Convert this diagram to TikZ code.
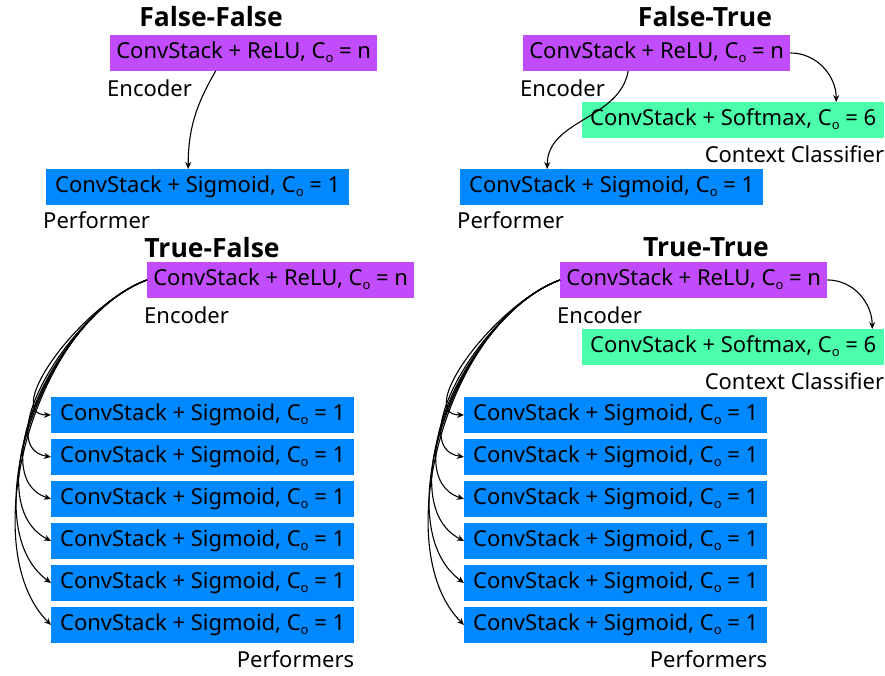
\documentclass[tikz,border=0pt]{standalone}
\usepackage{fontspec}
\setmainfont{Noto Sans}
\newfontfamily\headfont{Open Sans}
\usepackage{xcolor}
\usetikzlibrary{positioning, calc, arrows.meta}

\definecolor{encpurple}{RGB}{192,76,252}
\definecolor{perfblue}{RGB}{0,136,255}
\definecolor{ctxgreen}{RGB}{76,255,170}

% small subscript o after C
\newcommand{\Co}{C\raisebox{-3.5pt}{\fontsize{13}{13}\selectfont o}}

\tikzset{
    block/.style={anchor=north west, minimum height=35.5pt, inner xsep=5pt, inner ysep=0pt,
        text height=17pt, text depth=5pt, font=\fontsize{22}{26}\selectfont},
    encblock/.style={block, fill=encpurple, minimum width=267pt},
    perfblock/.style={block, fill=perfblue, minimum width=303pt},
    ctxblock/.style={block, fill=ctxgreen, minimum width=302pt},
    lab/.style={inner sep=0pt, font=\fontsize{22}{26}\selectfont},
    heading/.style={anchor=base, inner sep=0pt, font=\headfont\bfseries\fontsize{26.5}{30}\selectfont},
    arr/.style={-{Stealth[length=7pt,width=6pt]}, line width=1.1pt},
}

\begin{document}
\begin{tikzpicture}[x=1pt, y=-1pt]
    \useasboundingbox (0,0) rectangle (885,675);

    % False-False: encoder straight into one performer
    \node[heading] (fftitle) at (211,26) {False-False};
    \node[encblock] (ffenc) at (110,35) {ConvStack + ReLU, \Co{} = n};
    \node[lab, below right=9pt and -3pt of ffenc.south west] (ffenclab) {Encoder};
    \node[perfblock] (ffperf) at (46,169) {ConvStack + Sigmoid, \Co{} = 1};
    \node[lab, below right=7pt and -3pt of ffperf.south west] (ffperflab) {Performer};
    \draw[arr] ([xshift=-28pt]ffenc.south) to[out=240, in=90] ([xshift=-9.5pt]ffperf.north);

    % False-True: encoder feeds performer and context classifier
    \node[heading] (fttitle) at (705,26) {False-True};
    \node[encblock] (ftenc) at (523,35) {ConvStack + ReLU, \Co{} = n};
    \node[lab, below right=9pt and -3pt of ftenc.south west] (ftenclab) {Encoder};
    \node[ctxblock] (ftctx) at (582,102) {ConvStack + Softmax, \Co{} = 6};
    \node[lab, below left=8pt and 0pt of ftctx.south east] (ftctxlab) {Context Classifier};
    \node[perfblock] (ftperf) at (460,169) {ConvStack + Sigmoid, \Co{} = 1};
    \node[lab, below right=7pt and -3pt of ftperf.south west] (ftperflab) {Performer};
    \draw[arr] ([xshift=-28.5pt]ftenc.south) to[out=-100, in=90] ([xshift=-64.5pt]ftperf.north);
    \draw[arr] (ftenc.east) to[out=0, in=90] ([xshift=103pt]ftctx.north);

    % True-False: encoder fans out to six performers
    \node[heading] (tftitle) at (212,257) {True-False};
    \node[encblock] (tfenc) at (147,262) {ConvStack + ReLU, \Co{} = n};
    \node[lab, below right=9pt and -3pt of tfenc.south west] (tfenclab) {Encoder};
    \foreach \i in {1,...,6}
        \node[perfblock] (tfperf\i) at (51,{397+42*(\i-1)}) {ConvStack + Sigmoid, \Co{} = 1};
    \node[lab, below left=8pt and 0pt of tfperf6.south east] (tfperflab) {Performers};
    \foreach \i [evaluate=\i as \ia using 180-9*(\i-1),
                 evaluate=\i as \od using 70+10*(\i-1),
                 evaluate=\i as \id using 50+12*(\i-1)] in {1,...,6}
        \draw[arr] (tfenc.west) to[out=200, in=\ia, out distance=\od pt, in distance=\id pt] (tfperf\i.west);

    % True-True: six performers plus context classifier
    \node[heading] (tttitle) at (706,256) {True-True};
    \node[encblock] (ttenc) at (560,262) {ConvStack + ReLU, \Co{} = n};
    \node[lab, below right=9pt and -3pt of ttenc.south west] (ttenclab) {Encoder};
    \node[ctxblock] (ttctx) at (582,329) {ConvStack + Softmax, \Co{} = 6};
    \node[lab, below left=8pt and 0pt of ttctx.south east] (ttctxlab) {Context Classifier};
    \foreach \i in {1,...,6}
        \node[perfblock] (ttperf\i) at (464,{397+42*(\i-1)}) {ConvStack + Sigmoid, \Co{} = 1};
    \node[lab, below left=8pt and 0pt of ttperf6.south east] (ttperflab) {Performers};
    \foreach \i [evaluate=\i as \ia using 180-9*(\i-1),
                 evaluate=\i as \od using 70+10*(\i-1),
                 evaluate=\i as \id using 50+12*(\i-1)] in {1,...,6}
        \draw[arr] (ttenc.west) to[out=200, in=\ia, out distance=\od pt, in distance=\id pt] (ttperf\i.west);
    \draw[arr] (ttenc.east) to[out=0, in=90] ([xshift=139pt]ttctx.north);

\end{tikzpicture}
\end{document}
